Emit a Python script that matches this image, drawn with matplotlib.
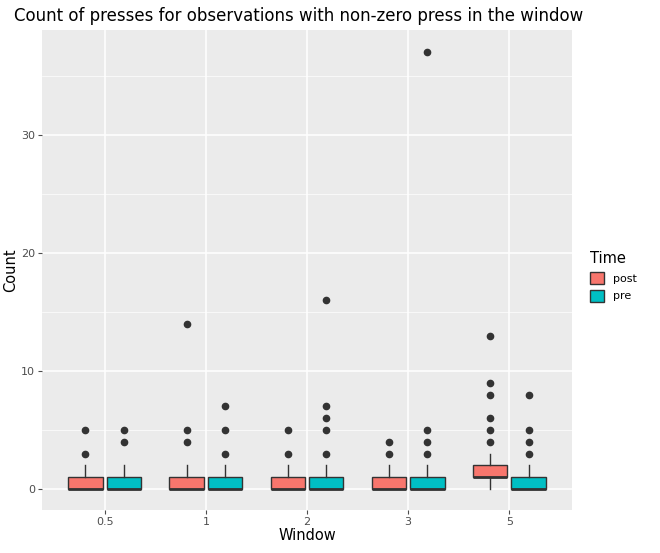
import matplotlib
matplotlib.use("Agg")
import matplotlib.pyplot as plt
from matplotlib.patches import Patch

windows = ["0.5", "1", "2", "3", "5"]
times = ["post", "pre"]
colors = {"post": "#F8766D", "pre": "#00BFC4"}

# (q1, med, q3, whislo, whishi, fliers)
post_stats = [
    (0, 0, 1, 0, 2, [3, 5]),
    (0, 0, 1, 0, 2, [4, 5, 14]),
    (0, 0, 1, 0, 2, [3, 5]),
    (0, 0, 1, 0, 2, [3, 4]),
    (1, 1, 2, 0, 3, [4, 5, 6, 8, 9, 13]),
]
pre_stats = [
    (0, 0, 1, 0, 2, [4, 5]),
    (0, 0, 1, 0, 2, [3, 5, 7]),
    (0, 0, 1, 0, 2, [3, 5, 6, 7, 16]),
    (0, 0, 1, 0, 2, [3, 4, 5, 37]),
    (0, 0, 1, 0, 2, [3, 4, 5, 8]),
]

fig = plt.figure(figsize=(6.6, 5.53), dpi=100)
ax = fig.add_axes([42/660, 43/553, 530/660, 480/553])
ax.set_facecolor("#EBEBEB")
for s in ax.spines.values():
    s.set_visible(False)
ax.set_axisbelow(True)
ax.grid(True, color="white", lw=1.1)
ax.set_yticks([5, 15, 25, 35], minor=True)
ax.grid(True, which="minor", axis="y", color="white", lw=0.5)
ax.tick_params(which="minor", length=0)

for t, stats, off in [("post", post_stats, -0.19), ("pre", pre_stats, 0.19)]:
    bx = [dict(q1=q1, med=m, q3=q3, whislo=lo, whishi=hi, fliers=f)
          for q1, m, q3, lo, hi, f in stats]
    pos = [i + 1 + off for i in range(len(windows))]
    ax.bxp(bx, positions=pos, widths=0.34, patch_artist=True, showcaps=False,
           boxprops=dict(facecolor=colors[t], edgecolor="#333333", lw=1),
           medianprops=dict(color="#333333", lw=2),
           whiskerprops=dict(color="#333333", lw=1),
           flierprops=dict(marker="o", markerfacecolor="#333333",
                           markeredgecolor="#333333", markersize=4.5))

ax.set_xticks(range(1, 6))
ax.set_xticklabels(windows)
ax.set_yticks([0, 10, 20, 30])
ax.set_xlim(0.38, 5.62)
ax.set_ylim(-1.78, 38.9)
ax.tick_params(colors="#4D4D4D", labelsize=8, length=3, tickdir="out", pad=2)
for lab in ax.get_xticklabels() + ax.get_yticklabels():
    lab.set_color("#4D4D4D")
ax.set_xlabel("Window", fontsize=10.5, labelpad=1)
ax.set_ylabel("Count", fontsize=10.5, labelpad=2)
fig.text(14/660, 1 - 16/553, "Count of presses for observations with non-zero press in the window",
         fontsize=12, ha="left", va="center")

handles = [Patch(facecolor=colors[t], edgecolor="#333333", label=t) for t in times]
leg = fig.legend(handles=handles, title="Time", loc="center left",
                 bbox_to_anchor=(580/660, 0.5), frameon=False, fontsize=8,
                 title_fontsize=10.5, handlelength=1.3, handleheight=1.3)
leg._legend_box.align = "left"
fig.savefig("out.png", dpi=100)
